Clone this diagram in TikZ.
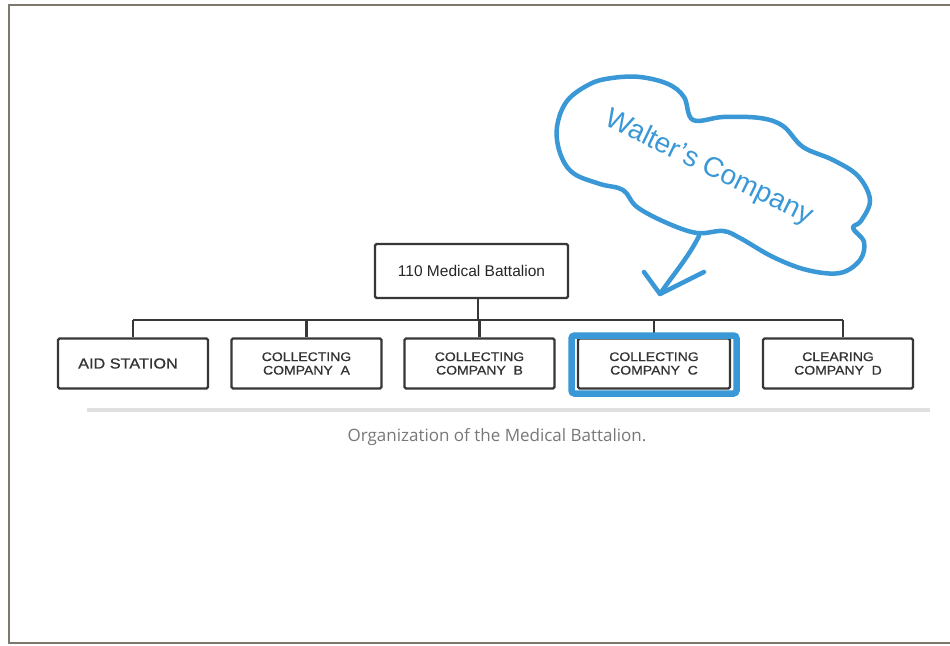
\documentclass[tikz,border=0pt]{standalone}
\usepackage{fontspec}
\setmainfont{Liberation Sans}
\newfontfamily\boxfont[FakeStretch=1.12,FakeBold=0.8]{Liberation Sans}
\newfontfamily\capfont{Open Sans}
\definecolor{framegray}{RGB}{125,119,108}
\definecolor{boxline}{RGB}{55,55,55}
\definecolor{hiblue}{RGB}{58,152,214}
\definecolor{rulegray}{RGB}{224,224,224}
\definecolor{capgray}{RGB}{120,120,120}
\tikzset{
  orgbox/.style={draw=boxline, line width=2.2pt, rounded corners=1.5pt, fill=white,
    minimum width=150pt, minimum height=50pt, inner sep=0pt, align=center,
    text=black!80, font=\boxfont\fontsize{12.5}{13.5}\selectfont},
  conn/.style={draw=boxline, line width=2.2pt},
  blueline/.style={draw=hiblue, line width=4.5pt, line cap=round, line join=round}
}
\begin{document}
\begin{tikzpicture}[x=1pt,y=-1pt]
\useasboundingbox (0,0) rectangle (950,645);
\fill[white] (0,0) rectangle (950,645);
\draw[framegray, line width=2pt] (9,5) rectangle (951,643);

% top box
\node[orgbox, minimum width=193pt, minimum height=54pt,
  font=\fontsize{15.5}{17}\selectfont, text=black!85] (bat) at (471.5,271) {110 Medical Battalion};

% second row
\node[orgbox, font=\boxfont\fontsize{14.5}{16}\selectfont] (aid) at (133,363.5) {\hspace*{-10pt}AID STATION};
\node[orgbox] (ca) at (306.5,363.5) {COLLECTING\\COMPANY\ \ A};
\node[orgbox] (cb) at (479.5,363.5) {COLLECTING\\COMPANY\ \ B};
\node[orgbox, minimum width=152pt] (cc) at (654,363.5) {COLLECTING\\COMPANY\ \ C};
\node[orgbox] (cd) at (838,363.5) {CLEARING\\COMPANY\ \ D};

% connectors
\coordinate (bus) at (478,320);
\draw[conn] ([xshift=6.5pt]bat.south) -- ([xshift=6.5pt]bat.south |- bus);
\draw[conn] (aid.north |- bus) -- ([xshift=5pt]cd.north |- bus);
\draw[conn] (aid.north |- bus) -- (aid.north);
\draw[conn] (ca.north |- bus) -- (ca.north);
\draw[conn] (cb.north |- bus) -- (cb.north);
\draw[conn] (cc.north |- bus) -- (cc.north);
\draw[conn] ([xshift=5pt]cd.north |- bus) -- ([xshift=5pt]cd.north);

% highlight
\draw[draw=hiblue, line width=6.5pt, rounded corners=3pt] (571.5,335.5) rectangle (736.5,393.5);

% rule and caption
\draw[rulegray, line width=4pt] (87,410) -- (930,410);
\node[font=\capfont\fontsize{17}{20}\selectfont, text=capgray] (cap) at (497,437) {Organization of the Medical Battalion.};

% cloud
\draw[blueline] plot[smooth cycle, tension=0.6] coordinates {
 (567,101) (590,84) (612,78) (640,77) (668,84) (684,97) (693,120)
 (723,117) (760,118) (783,126) (803,147)
 (833,160) (858,176) (870,200) (861,221) (853,228)
 (864,242) (860,260) (840,273) (807,270) (773,257) (740,238) (723,231)
 (697,233) (667,223) (637,207) (623,190)
 (600,184) (573,173) (560,153) (557,127)};
\node[rotate=-26, text=hiblue, font=\fontsize{28}{30}\selectfont] (walt) at (709,168) {Walter's Company};

% arrow
\coordinate (as) at (699,236);
\coordinate (tip) at (660,294);
\coordinate (wl) at (644,272);
\coordinate (wr) at (704,272);
\draw[blueline] (as) .. controls (688,258) and (672,276) .. (tip);
\draw[blueline] (wl) -- (tip) -- (wr);
\end{tikzpicture}
\end{document}
